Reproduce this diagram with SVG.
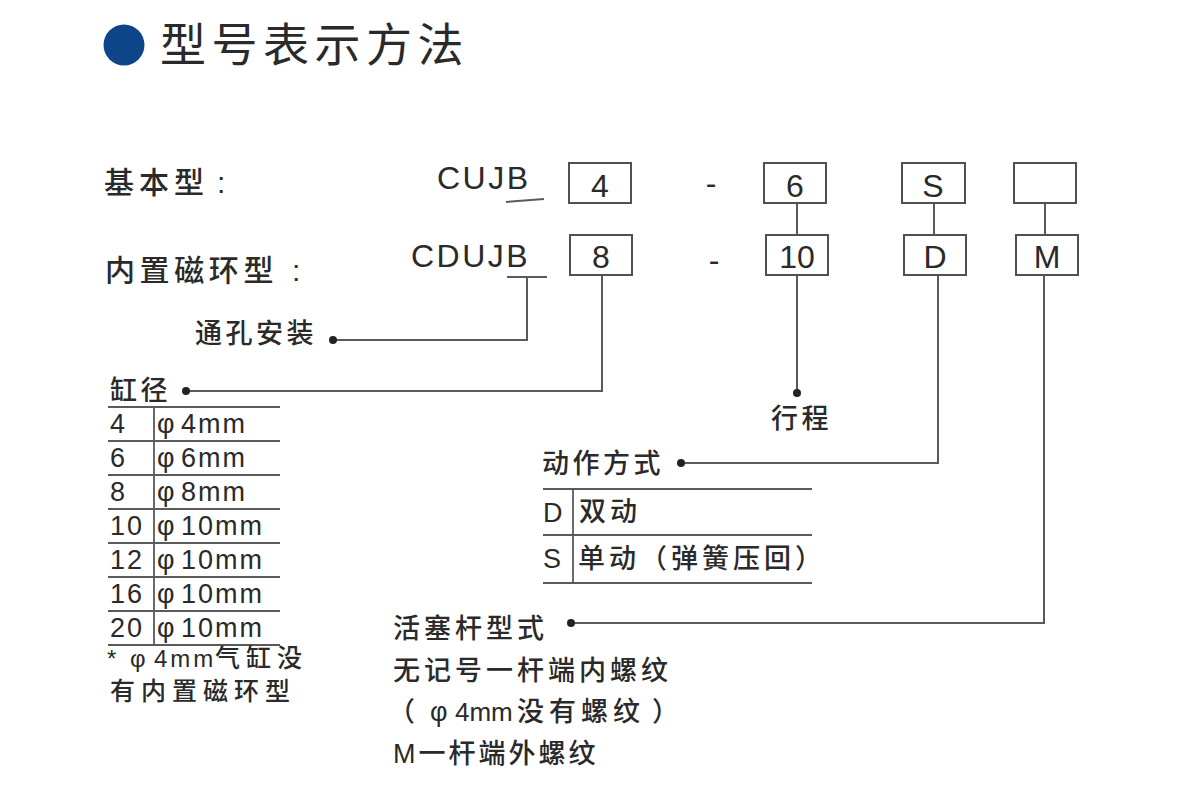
<svg xmlns="http://www.w3.org/2000/svg" width="1200" height="808" viewBox="0 0 1200 808">
<style>
text{font-family:"Liberation Sans","Noto Sans CJK SC",sans-serif;fill:#2a2a2a}
.cj{font-family:"Noto Sans CJK SC","Liberation Sans",sans-serif;font-weight:500}
.lbl{font-size:30px;letter-spacing:5px}
.sm{font-size:27px;letter-spacing:3.5px}
.tb{font-size:27px;letter-spacing:2px}
.box rect{fill:#fff;stroke:#505050;stroke-width:2}
.box text{font-size:32px;text-anchor:middle}
.ln{fill:none;stroke:#5a5a5a;stroke-width:2}
.dot{fill:#222}
</style>
<rect width="1200" height="808" fill="#fff"/>
<g id="title">
<circle cx="124" cy="45" r="20.5" fill="#0e4589"/>
<text class="cj" x="160" y="61" style="font-size:46px;letter-spacing:5.5px;font-weight:400">型号表示方法</text>
</g>
<g id="row-labels">
<text class="cj lbl" x="104" y="193">基本型<tspan x="217" style="font-family:'Liberation Sans'">:</tspan></text>
<text class="cj lbl" x="105" y="281" style="letter-spacing:4.6px">内置磁环型<tspan x="292" style="font-family:'Liberation Sans'">:</tspan></text>
</g>
<g id="model-codes">
<text x="437" y="189" style="font-size:32px;letter-spacing:2.5px">CUJB</text>
<text x="411" y="267" style="font-size:32px;letter-spacing:2.5px">CDUJB</text>
<text x="711" y="194" style="font-size:32px;text-anchor:middle">-</text>
<text x="714" y="271" style="font-size:32px;text-anchor:middle">-</text>
</g>
<g id="box-4" class="box"><rect x="569" y="163" width="62" height="40"/><text x="600" y="197">4</text></g>
<g id="box-8" class="box"><rect x="570" y="235" width="62" height="40"/><text x="601" y="268">8</text></g>
<g id="box-6" class="box"><rect x="764" y="163" width="62" height="40"/><text x="795" y="197">6</text></g>
<g id="box-10" class="box"><rect x="766" y="235" width="62" height="40"/><text x="797" y="268">10</text></g>
<g id="box-S" class="box"><rect x="902" y="163" width="63" height="40"/><text x="933" y="197">S</text></g>
<g id="box-D" class="box"><rect x="904" y="235" width="62" height="40"/><text x="935" y="268">D</text></g>
<g id="box-empty" class="box"><rect x="1014" y="163" width="62" height="40"/></g>
<g id="box-M" class="box"><rect x="1016" y="235" width="62" height="40"/><text x="1047" y="268">M</text></g>
<g id="connectors">
<path class="ln" d="M506 202 L544 199"/>
<path class="ln" d="M507 277 H547"/>
<path class="ln" d="M527 277 V340 H333"/>
<path class="ln" d="M602 275 V391 H186"/>
<path class="ln" d="M797 203 V235"/>
<path class="ln" d="M797 275 V393"/>
<path class="ln" d="M934 203 V235"/>
<path class="ln" d="M938 275 V463 H681"/>
<path class="ln" d="M1045 203 V235"/>
<path class="ln" d="M1044 275 V623 H571"/>
<circle class="dot" cx="333" cy="340" r="4"/>
<circle class="dot" cx="186" cy="391" r="4"/>
<circle class="dot" cx="797" cy="393" r="4"/>
<circle class="dot" cx="681" cy="463" r="4"/>
<circle class="dot" cx="571" cy="623" r="4"/>
</g>
<g id="mount">
<text class="cj sm" x="195" y="343">通孔安装</text>
</g>
<g id="stroke">
<text class="cj sm" x="771" y="428">行程</text>
</g>
<g id="bore">
<text class="cj sm" x="110" y="400">缸径</text>
<path class="ln" style="stroke-width:1.8" d="M108 407 H280 M108 441 H280 M108 475 H280 M108 509 H280 M108 543 H280 M108 577 H280 M108 611 H280 M108 645 H280 M154 407 V645"/>
<text class="tb" x="110" y="433">4</text><text class="tb" x="157" y="433">φ</text><text class="tb" x="181" y="433">4mm</text>
<text class="tb" x="110" y="467">6</text><text class="tb" x="157" y="467">φ</text><text class="tb" x="181" y="467">6mm</text>
<text class="tb" x="110" y="501">8</text><text class="tb" x="157" y="501">φ</text><text class="tb" x="181" y="501">8mm</text>
<text class="tb" x="110" y="535">10</text><text class="tb" x="157" y="535">φ</text><text class="tb" x="181" y="535">10mm</text>
<text class="tb" x="110" y="569">12</text><text class="tb" x="157" y="569">φ</text><text class="tb" x="181" y="569">10mm</text>
<text class="tb" x="110" y="603">16</text><text class="tb" x="157" y="603">φ</text><text class="tb" x="181" y="603">10mm</text>
<text class="tb" x="110" y="637">20</text><text class="tb" x="157" y="637">φ</text><text class="tb" x="181" y="637">10mm</text>
<text x="107" y="667" style="font-size:24px">*<tspan x="130">φ</tspan><tspan x="154" style="letter-spacing:3px">4mm</tspan><tspan x="215" style="font-family:'Noto Sans CJK SC',sans-serif;font-weight:500;letter-spacing:6px;font-size:25px">气缸没</tspan></text>
<text class="cj" x="110" y="700" style="font-size:25px;letter-spacing:6px">有内置磁环型</text>
</g>
<g id="action">
<text class="cj sm" x="542" y="473">动作方式</text>
<path class="ln" style="stroke-width:1.8" d="M543 489 H812 M543 535 H812 M543 583 H812 M573 489 V583"/>
<text x="543" y="522" style="font-size:27px">D</text>
<text class="cj" x="579" y="521" style="font-size:27px;letter-spacing:4px">双动</text>
<text x="543" y="568" style="font-size:27px">S</text>
<text class="cj" x="578" y="568" style="font-size:27px;letter-spacing:4px">单动（弹簧压回）</text>
</g>
<g id="rod">
<text class="cj" x="393" y="638" style="font-size:27px;letter-spacing:4px">活塞杆型式</text>
<text class="cj" x="393" y="680" style="font-size:27px;letter-spacing:4px">无记号一杆端内螺纹</text>
<text class="cj" x="388" y="721" style="font-size:27px">（<tspan x="430" style="font-family:'Liberation Sans';font-weight:400">φ</tspan><tspan x="455" style="font-family:'Liberation Sans';font-weight:400;font-size:26px">4mm</tspan><tspan x="517" style="letter-spacing:5px">没有螺纹</tspan><tspan x="652">）</tspan></text>
<text x="393" y="763" style="font-size:27px;letter-spacing:3px">M<tspan style="font-family:'Noto Sans CJK SC',sans-serif;font-weight:500">一杆端外螺纹</tspan></text>
</g>
</svg>
